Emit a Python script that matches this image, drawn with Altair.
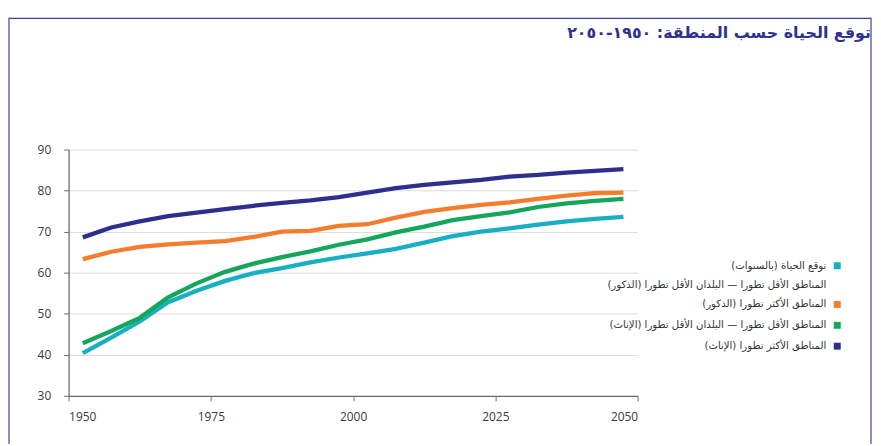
import altair as alt
import pandas as pd

# ---------------- data ----------------
years = [1952.5, 1957.5, 1962.5, 1967.5, 1972.5, 1977.5, 1982.5, 1987.5, 1992.5, 1997.5,
         2002.5, 2007.5, 2012.5, 2017.5, 2022.5, 2027.5, 2032.5, 2037.5, 2042.5, 2047.5]

series_names = [
    "المناطق الأقل تطورا — البلدان الأقل تطورا (الذكور)",
    "المناطق الأكثر تطورا (الذكور)",
    "المناطق الأقل تطورا — البلدان الأقل تطورا (الإناث)",
    "المناطق الأكثر تطورا (الإناث)",
]
series_colors = ["#19afc2", "#f47c2c", "#14a65a", "#2d2f8e"]

less_dev_male = [40.4, 44.2, 48.1, 52.8, 55.6, 58.0, 59.9, 61.1, 62.5, 63.7,
                 64.7, 65.8, 67.3, 68.9, 70.0, 70.8, 71.7, 72.5, 73.1, 73.6]
more_dev_male = [63.3, 65.1, 66.3, 66.9, 67.3, 67.7, 68.7, 70.0, 70.2, 71.4,
                 71.8, 73.4, 74.8, 75.7, 76.5, 77.1, 78.0, 78.8, 79.4, 79.5]
less_dev_female = [42.8, 45.8, 49.0, 54.0, 57.4, 60.2, 62.2, 63.8, 65.2, 66.8,
                   68.1, 69.8, 71.2, 72.8, 73.8, 74.7, 76.0, 76.9, 77.5, 78.0]
more_dev_female = [68.6, 71.0, 72.5, 73.8, 74.6, 75.5, 76.3, 77.0, 77.6, 78.4,
                   79.5, 80.6, 81.4, 82.0, 82.6, 83.4, 83.8, 84.4, 84.8, 85.2]

x_ticks = [1950, 1975, 2000, 2025, 2050]
y_ticks = [30, 40, 50, 60, 70, 80, 90]

title_text = "توقع الحياة حسب المنطقة: ١٩٥٠-٢٠٥٠"
legend_heading = "توقع الحياة (بالسنوات)"

RLM = "\u200f"

rows = []
for name, vals in zip(series_names,
                      [less_dev_male, more_dev_male, less_dev_female, more_dev_female]):
    for yr, v in zip(years, vals):
        rows.append({"year": yr, "value": v, "series": name})
df = pd.DataFrame(rows)

# ---------------- layout ----------------
W, H = 573, 248
PAD = {"left": 61, "top": 141, "right": 237, "bottom": 47}
AXIS_COL = "#6b6b6b"
LABEL_COL = "#3a3a3a"
ARABIC_FONT = "DejaVu Sans"

lines = alt.Chart(df).mark_line(strokeWidth=4.3).encode(
    x=alt.X("year:Q",
            scale=alt.Scale(domain=[1950, 2050], nice=False, zero=False),
            axis=alt.Axis(values=x_ticks, format="d", grid=False, labelFlush=True,
                          title=None, tickSize=5, labelPadding=11,
                          domainColor=AXIS_COL, tickColor=AXIS_COL, domainWidth=1.3,
                          labelColor=LABEL_COL, labelFontSize=12, labelFont="Open Sans")),
    y=alt.Y("value:Q",
            scale=alt.Scale(domain=[30, 90], nice=False, zero=False),
            axis=alt.Axis(values=y_ticks, grid=True, gridColor="#dcdcdc", gridWidth=1,
                          title=None, tickSize=5, labelPadding=13,
                          domainColor=AXIS_COL, tickColor=AXIS_COL, domainWidth=1.3,
                          labelColor=LABEL_COL, labelFontSize=12, labelFont="Open Sans")),
    color=alt.Color("series:N",
                    scale=alt.Scale(domain=series_names, range=series_colors),
                    legend=None),
)

blank = alt.Data(values=[{}])

# frame
frame = alt.Chart(blank).mark_rect(fill="transparent", stroke="#3f419b",
                                   strokeWidth=1.2).encode(
    x=alt.value(-60), x2=alt.value(808), y=alt.value(-132), y2=alt.value(400)
)

# title
title = alt.Chart(blank).mark_text(
    text=RLM + title_text + RLM, align="right", baseline="alphabetic",
    fontSize=16, fontWeight="bold", font=ARABIC_FONT, color="#2e3192"
).encode(x=alt.value(808), y=alt.value(-112))

# legend (right-to-left, swatch on the right)
legend_labels = [legend_heading, series_names[0], series_names[1],
                 series_names[2], series_names[3]]
legend_swatches = [series_colors[0], None, series_colors[1],
                   series_colors[2], series_colors[3]]
legend_rows_y = [117, 136, 156, 177, 198]

legend_layers = []
for lab, col, ly in zip(legend_labels, legend_swatches, legend_rows_y):
    legend_layers.append(
        alt.Chart(blank).mark_text(
            text=RLM + lab + RLM, align="right", baseline="middle",
            fontSize=10.2, font=ARABIC_FONT, color="#333333"
        ).encode(x=alt.value(763), y=alt.value(ly))
    )
    if col is not None:
        legend_layers.append(
            alt.Chart(blank).mark_square(size=49, color=col, opacity=1).encode(
                x=alt.value(774), y=alt.value(ly))
        )

chart = alt.layer(frame, lines, title, *legend_layers).properties(
    width=W, height=H, padding=PAD,
    autosize=alt.AutoSizeParams(type="none"),
    background="white",
).configure_view(stroke=None)

chart.save("out.html", embed_options={"renderer": "svg", "actions": False})
